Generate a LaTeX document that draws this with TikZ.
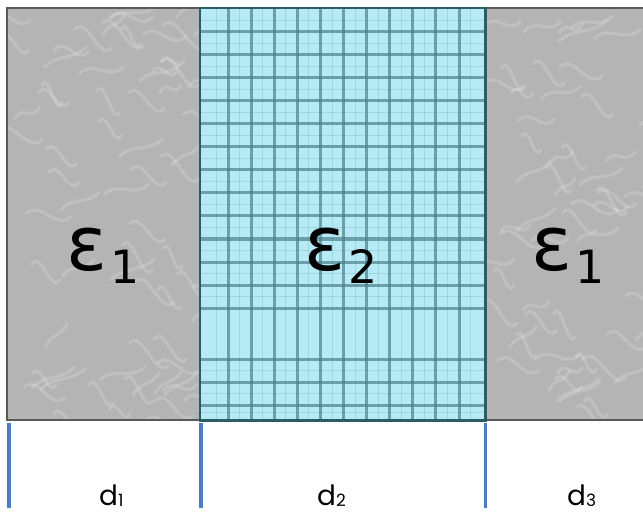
\documentclass[tikz,border=0pt]{standalone}
\usepackage{fontspec}
\setmainfont{Poppins}
\newfontfamily\epsfont{DejaVu Sans}
\definecolor{grayfill}{HTML}{B4B4B4}
\definecolor{grayedge}{HTML}{5A5A5A}
\definecolor{cyanfill}{HTML}{B6EBF6}
\definecolor{cyanedge}{HTML}{2E5C66}
\definecolor{gridline}{HTML}{4C7F8B}
\definecolor{gridfaint}{HTML}{86BCC8}
\definecolor{bluemark}{HTML}{4A7EBF}
\tikzset{
  graypanel/.style={fill=grayfill, draw=none, inner sep=0pt, anchor=north west},
  cyanpanel/.style={fill=cyanfill, draw=none, inner sep=0pt, anchor=north west},
  grayborder/.style={draw=grayedge, line width=2bp},
  cyanborder/.style={draw=cyanedge, line width=2.2bp},
  swirl/.style={draw=white, opacity=0.16, line width=3.2bp, line cap=round},
  gridmain/.style={draw=gridline, line width=3bp, opacity=0.7},
  gridthin/.style={draw=gridfaint, line width=0.9bp, opacity=0.45},
  marker/.style={draw=bluemark, line width=3.5bp},
  epslabel/.style={anchor=base west, inner sep=0pt, font=\fontsize{76}{80}\epsfont},
  dlabel/.style={anchor=base west, inner sep=0pt, font=\fontsize{28}{30}\selectfont}
}
\newcommand{\epssub}[1]{ε\hspace{3bp}\raisebox{-13bp}{\fontsize{46}{48}\selectfont #1}}
\newcommand{\dsub}[1]{d\raisebox{-1bp}{\fontsize{17}{18}\selectfont #1}}
\begin{document}
\begin{tikzpicture}[x=1bp,y=-1bp]
\useasboundingbox (0,0) rectangle (643,514);
\fill[white] (0,0) rectangle (643,514);

% panels
\node[graypanel, minimum width=193bp, minimum height=412bp] (p1) at (7,8) {};
\node[cyanpanel, minimum width=285bp, minimum height=412bp] (p2) at (200,8) {};
\node[graypanel, minimum width=160bp, minimum height=412bp] (p3) at (486,8) {};

% marble texture
\pgfmathsetseed{17}
\begin{scope}
  \clip (p1.north west) rectangle (p1.south east);
  \foreach \k in {1,...,70}{
    \pgfmathsetmacro\xa{-10+205*rnd}
    \pgfmathsetmacro\ya{8+420*rnd}
    \pgfmathsetmacro\len{18+30*rnd}
    \pgfmathsetmacro\dy{-25+50*rnd}
    \pgfmathsetmacro\xb{\xa+\len/3}
    \pgfmathsetmacro\yb{\ya-14}
    \pgfmathsetmacro\xc{\xa+2*\len/3}
    \pgfmathsetmacro\yc{\ya+\dy+14}
    \pgfmathsetmacro\xd{\xa+\len}
    \pgfmathsetmacro\yd{\ya+\dy}
    \draw[swirl] (\xa,\ya) .. controls (\xb,\yb) and (\xc,\yc) .. (\xd,\yd);
  }
\end{scope}
\begin{scope}
  \clip (p3.north west) rectangle (p3.south east);
  \foreach \k in {1,...,62}{
    \pgfmathsetmacro\xa{476+175*rnd}
    \pgfmathsetmacro\ya{8+420*rnd}
    \pgfmathsetmacro\len{18+30*rnd}
    \pgfmathsetmacro\dy{-25+50*rnd}
    \pgfmathsetmacro\xb{\xa+\len/3}
    \pgfmathsetmacro\yb{\ya-14}
    \pgfmathsetmacro\xc{\xa+2*\len/3}
    \pgfmathsetmacro\yc{\ya+\dy+14}
    \pgfmathsetmacro\xd{\xa+\len}
    \pgfmathsetmacro\yd{\ya+\dy}
    \draw[swirl] (\xa,\ya) .. controls (\xb,\yb) and (\xc,\yc) .. (\xd,\yd);
  }
\end{scope}

% tile grid
\begin{scope}
  \clip (p2.north west) rectangle (p2.south east);
  \foreach \x in {216.5,239.6,262.7,285.8,308.9,332,355.1,378.2,401.3,424.4,447.5,470.6}{
    \draw[gridthin] (\x,8) -- (\x,420);
  }
  \foreach \y in {20,43.5,66.5,89.5,112.5,135.5,158.5,181.5,204.5,227.5,250.5,273.5,296.5,370.5,393.5,412}{
    \draw[gridthin] (200,\y) -- (485,\y);
  }
  \foreach \x in {228,251.1,274.2,297.3,320.4,343.5,366.6,389.7,412.8,435.9,459}{
    \draw[gridmain] (\x,8) -- (\x,420);
  }
  \foreach \y in {32,55,78,101,124,147,170,193,216,239,262,285,308,359,382,405}{
    \draw[gridmain] (200,\y) -- (485,\y);
  }
\end{scope}

% borders
\draw[grayborder] (p1.north west) rectangle (p1.south east);
\draw[grayborder] (p3.north west) rectangle (p3.south east);
\draw[cyanborder] (p2.north west) rectangle (p2.south east);

% labels in panels
\node[epslabel] (e1) at (66,270) {\epssub{1}};
\node[epslabel] (e2) at (304,270) {\epssub{2}};
\node[epslabel] (e3) at (531,270) {\epssub{1}};

% thickness markers
\coordinate (m1t) at (9,423);
\coordinate (m1b) at (9,508);
\coordinate (m2t) at (201,423);
\coordinate (m2b) at (201,508);
\coordinate (m3t) at (485.5,423);
\coordinate (m3b) at (485.5,508);
\draw[marker] (m1t) -- (m1b);
\draw[marker] (m2t) -- (m2b);
\draw[marker] (m3t) -- (m3b);

% thickness labels
\node[dlabel] (d1) at (99,505) {\dsub{1}};
\node[dlabel] (d2) at (317,505) {\dsub{2}};
\node[dlabel] (d3) at (567,505) {\dsub{3}};
\end{tikzpicture}
\end{document}
